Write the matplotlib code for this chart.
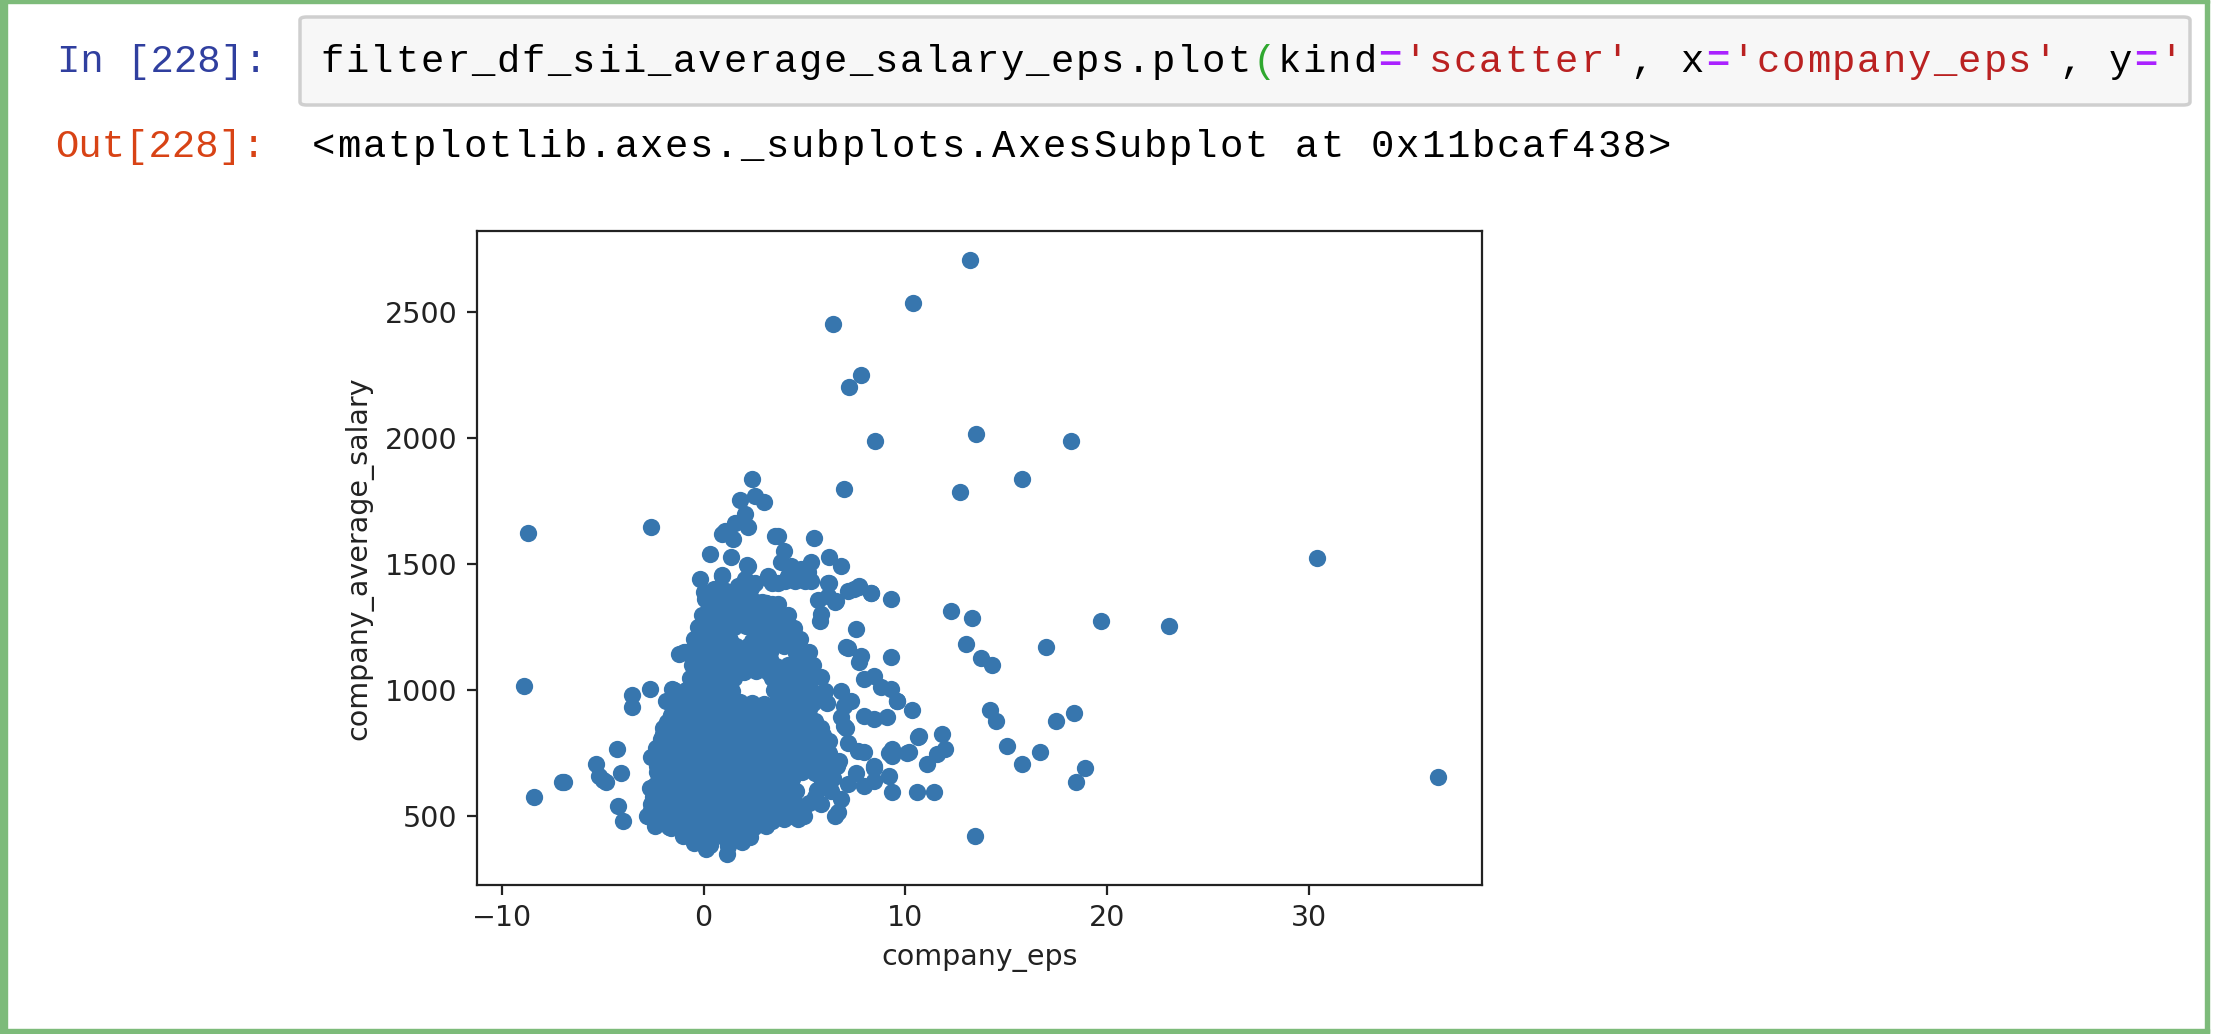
import numpy as np
import matplotlib.pyplot as plt
from matplotlib.patches import Rectangle, FancyBboxPatch

W, H = 2220, 1034

# outliers far from the main cloud
eps_outer = [13.2, 10.4, 6.4, 7.8, 7.2, 8.5, 13.5, 18.2, 6.95, 12.7, 15.8,
             -8.7, -8.9, -8.4, -7.0, 12.25, 13.3, 13.0, 13.75, 14.3, 17.0,
             14.2, 14.5, 18.35, 17.45, 15.05, 16.7, 15.8, 18.9, 18.45, 13.45,
             19.7, 23.1, 30.4, 36.4]
salary_outer = [2705, 2537, 2454, 2252, 2203, 1990, 2015, 1990, 1800, 1788, 1836,
                1623, 1016, 576, 635, 1313, 1288, 1183, 1127, 1101, 1171,
                921, 876, 910, 876, 780, 756, 706, 693, 635, 420,
                1276, 1255, 1524, 657]

# scattered points around the edge of the cloud
eps_spread = [-2.63, 2.38, 1.81, 2.55, 2.99, 2.05, 2.22, 1.07, 0.9, 1.56, 1.48,
              0.33, 1.35, 3.53, 2.22, 0.9, -0.16, 0.0, 0.08, 1.72, 2.38, 1.4,
              3.2, 3.37, 0.74, 1.07, 2.87, 3.04, 2.55, -0.49, -0.9, 0.41,
              3.69, 5.47, 3.99, 6.24, 6.81, 3.86, 4.35, 4.84, 5.34, 4.19, 4.68,
              5.17, 3.69, 4.02, 4.52, 5.01, 5.34, 6.24, 7.14, 7.72, 8.29, 7.47,
              9.31, 5.67, 6.49, 6.16, 3.37, 3.69, 5.83, 5.75, 7.55, 7.14, 7.8,
              9.28, 7.72, 7.96, 8.46, 8.78, 9.28, 9.61, 10.34, 6.81, 7.3, 7.96,
              8.46, 6.81, 6.98, 10.67, 11.82, 7.14, 7.64, 7.96, 9.36, 10.18,
              9.36, 11.99, 11.58, 11.08, 6.73, 7.55, 8.46, 9.2, 7.14, 7.96, 8.46,
              6.81, 6.65, 9.36, 10.59, 11.41, 9.08, 9.58, 6.94, 7.04, 9.2, 10.08,
              10.64, 8.45, 7.07, 6.57, 6.19, 7.69, 8.32, 2.17, 2.04, 2.54, 3.22,
              3.07, 0.89, -0.34, -0.98, -1.48, -1.86, -2.66, -3.56, -3.56, -1.56,
              -4.29, -5.32, -5.17, -5.0, -4.84, -4.12, -6.93, -4.24, -4.02,
              -2.68, -2.66, -2.61, -2.36, -2.12, -1.23, -1.39, -1.72, -1.64]
salary_spread = [1646, 1837, 1754, 1771, 1745, 1698, 1647, 1632, 1619, 1665, 1599,
                 1540, 1529, 1612, 1493, 1456, 1440, 1388, 1361, 1414, 1414, 1388,
                 1454, 1427, 1348, 1321, 1348, 1308, 1308, 1205, 1152, 1249,
                 1612, 1602, 1553, 1530, 1491, 1507, 1493, 1480, 1507, 1454, 1454,
                 1467, 1427, 1434, 1434, 1434, 1434, 1425, 1394, 1414, 1385, 1401,
                 1361, 1358, 1348, 1374, 1341, 1341, 1302, 1275, 1242, 1169, 1136,
                 1130, 1112, 1044, 1057, 1011, 1004, 958, 922, 997, 958, 898,
                 885, 892, 858, 817, 825, 792, 759, 753, 766, 753,
                 739, 766, 746, 706, 719, 673, 700, 660, 627, 620, 640,
                 567, 515, 596, 596, 596, 894, 956, 938, 848, 752, 752,
                 816, 690, 1171, 1354, 1425, 1411, 1384, 1496, 1443, 1425, 1443,
                 1345, 1452, 1204, 1150, 1000, 956, 1005, 979, 934, 1004,
                 766, 706, 660, 645, 634, 672, 634, 539, 481,
                 613, 495, 734, 770, 806, 1143, 845, 766, 455]

# the dense cloud, read row by row
eps_core = [0.5, 1.1, 1.7, 2.3,
            0.2, 0.8, 1.4, 2.0, 2.6, 3.1,
            -0.1, 0.5, 1.0, 1.6, 2.2, 3.0, 3.6, 4.2,
            -0.3, 0.3, 0.9, 1.5, 2.1, 2.7, 3.3, 3.9, 4.5,
            -0.4, 0.2, 0.8, 1.3, 2.4, 3.0, 3.6, 4.2, 4.8,
            -0.3, 0.3, 0.9, 1.5, 2.1, 2.7, 3.3, 4.6, 5.2,
            -0.6, 0.0, 0.6, 1.2, 1.8, 2.4, 3.0, 3.6, 4.2, 4.8, 5.4,
            -0.7, -0.1, 0.5, 1.1, 1.5, 3.4, 4.0, 4.6, 5.2, 5.8,
            -0.9, -0.3, 0.3, 0.9, 1.4, 3.5, 4.1, 4.7, 5.3, 6.0,
            -1.2, -0.6, 0.0, 0.6, 1.2, 1.8, 2.4, 3.0, 3.6, 4.2, 4.8, 5.4, 6.1,
            -1.6, -1.0, -0.4, 0.2, 0.8, 1.4, 2.0, 2.6, 3.2, 3.8, 4.4, 5.0,
            -2.0, -1.4, -0.8, -0.2, 0.4, 1.0, 1.6, 2.2, 2.8, 3.4, 4.0, 4.6, 5.2, 5.8,
            -2.1, -1.5, -0.9, -0.3, 0.3, 0.9, 1.5, 2.1, 2.7, 3.3, 3.9, 4.5, 5.1, 5.7, 6.2,
            -2.2, -1.6, -1.0, -0.4, 0.2, 0.8, 1.4, 2.0, 2.6, 3.2, 3.8, 4.4, 5.0, 5.6, 6.2,
            -2.3, -1.7, -1.1, -0.5, 0.1, 0.7, 1.3, 1.9, 2.5, 3.1, 3.7, 4.3, 4.9, 5.5, 6.1, 6.6,
            -2.2, -1.6, -1.0, -0.4, 0.2, 0.8, 1.4, 2.0, 2.6, 3.2, 3.8, 4.4, 5.8, 6.4,
            -2.5, -1.9, -1.3, -0.7, -0.1, 0.5, 1.1, 1.7, 2.3, 2.9, 3.5, 4.1, 4.6, 5.6, 6.3,
            -2.6, -2.0, -1.4, -0.8, -0.2, 0.4, 1.0, 1.6, 2.2, 2.8, 3.4, 4.0, 4.6, 5.2, 5.8,
            -2.8, -2.2, -1.6, -1.0, -0.4, 0.2, 0.8, 1.4, 2.0, 2.6, 3.2, 3.8, 4.4, 5.0,
            -2.4, -1.7, -1.1, -0.5, 0.1, 0.7, 1.3, 1.9, 2.5, 3.1, 4.0, 4.7, 6.5,
            -1.0, -0.3, 0.4, 1.0, 1.6, 2.3,
            -0.5, 0.3, 1.2, 1.9,
            1.15, 0.1]
salary_core = [1400, 1395, 1402, 1398,
               1350, 1352, 1348, 1355, 1350, 1347,
               1300, 1298, 1303, 1300, 1296, 1302, 1300, 1297,
               1250, 1253, 1248, 1251, 1255, 1249, 1250, 1252, 1246,
               1200, 1203, 1198, 1201, 1197, 1202, 1200, 1199, 1203,
               1150, 1148, 1152, 1150, 1149, 1153, 1150, 1148, 1151,
               1100, 1102, 1098, 1101, 1099, 1100, 1103, 1097, 1100, 1102, 1098,
               1050, 1052, 1049, 1051, 1047, 1050, 1053, 1048, 1050, 1052,
               1000, 1003, 998, 1001, 997, 1000, 1002, 999, 1001, 998,
               950, 952, 948, 951, 949, 953, 950, 947, 951, 950, 952, 948, 950,
               900, 902, 898, 901, 899, 903, 900, 897, 901, 900, 902, 898,
               850, 852, 848, 851, 849, 853, 850, 847, 851, 850, 852, 848, 850, 851,
               800, 802, 798, 801, 799, 803, 800, 797, 801, 800, 802, 798, 800, 802, 799,
               750, 752, 748, 751, 749, 753, 750, 747, 751, 750, 752, 748, 750, 752, 749,
               700, 702, 698, 701, 699, 703, 700, 697, 701, 700, 702, 698, 700, 702, 699, 701,
               650, 652, 648, 651, 649, 653, 650, 647, 651, 650, 652, 648, 650, 652,
               600, 602, 598, 601, 599, 603, 600, 597, 601, 600, 602, 598, 600, 602, 599,
               550, 552, 548, 551, 549, 553, 550, 547, 551, 550, 552, 548, 550, 552, 549,
               500, 502, 498, 501, 499, 503, 500, 497, 501, 500, 502, 498, 500, 502,
               460, 458, 462, 459, 461, 457, 460, 462, 458, 461, 488, 488, 501,
               420, 418, 422, 419, 421, 417,
               395, 385, 380, 396,
               349, 369]

# more points of the cloud, between the rows above
eps_fill = [0.5, 1.1, 1.7, 2.3,
            0.2, 0.8, 1.4, 2.0, 3.0,
            0.0, 0.6, 1.2, 2.7, 3.3, 3.9,
            -0.2, 0.4, 1.0, 1.6, 2.2, 2.8, 3.4, 4.0,
            -0.3, 0.3, 0.9, 1.5, 2.1, 2.7, 3.3, 4.9,
            -0.4, 0.2, 0.8, 1.4, 2.0, 2.6, 3.2, 3.8, 4.4, 5.0,
            -0.6, 0.0, 0.6, 1.2, 3.7, 4.3, 4.9,
            -1.0, -0.4, 0.2, 0.8, 3.8, 4.4, 5.0, 5.6,
            -1.4, -0.8, -0.2, 0.4, 1.0, 1.6, 2.2, 2.8, 3.4, 4.0, 4.6, 5.2,
            -1.8, -1.2, -0.6, 0.0, 0.6, 1.2, 1.8, 2.4, 3.0, 3.6, 4.2, 4.8, 5.5,
            -2.0, -1.4, -0.8, -0.2, 0.4, 1.0, 1.6, 2.2, 2.8, 3.4, 4.0, 4.6, 5.2, 5.9,
            -2.1, -1.5, -0.9, -0.3, 0.3, 0.9, 1.5, 2.1, 2.7, 3.3, 3.9, 4.5, 5.1, 5.8,
            -2.2, -1.6, -1.0, -0.4, 0.2, 0.8, 1.4, 2.0, 2.6, 3.2, 3.8, 4.4, 5.0, 5.6, 6.3,
            -2.3, -1.7, -1.1, -0.5, 0.1, 0.7, 1.3, 1.9, 2.5, 3.1, 3.7, 4.3, 4.9, 5.5, 6.1,
            -2.4, -1.8, -1.2, -0.6, 0.0, 0.6, 1.2, 1.8, 2.4, 3.0, 3.6, 4.2, 5.9,
            -2.5, -1.9, -1.3, -0.7, -0.1, 0.5, 1.1, 1.7, 2.3, 2.9, 3.5, 4.1, 5.5,
            -2.6, -2.0, -1.4, -0.8, -0.2, 0.4, 1.0, 1.6, 2.2, 2.8, 3.4, 4.0, 4.8,
            -2.0, -1.4, -0.8, -0.2, 0.4, 1.0, 1.6, 2.2, 2.8, 3.4]
salary_fill = [1325, 1322, 1328, 1324,
               1275, 1278, 1272, 1276, 1274,
               1225, 1228, 1222, 1226, 1224, 1227,
               1175, 1178, 1172, 1176, 1174, 1177, 1173, 1175,
               1125, 1128, 1122, 1126, 1124, 1127, 1123, 1125,
               1075, 1078, 1072, 1076, 1074, 1077, 1073, 1075, 1078, 1072,
               1025, 1028, 1022, 1026, 1024, 1027, 1023,
               975, 978, 972, 976, 974, 977, 973, 975,
               925, 928, 922, 926, 924, 927, 923, 925, 928, 922, 926, 924,
               875, 878, 872, 876, 874, 877, 873, 875, 878, 872, 876, 874, 877,
               825, 828, 822, 826, 824, 827, 823, 825, 828, 822, 826, 824, 827, 823,
               775, 778, 772, 776, 774, 777, 773, 775, 778, 772, 776, 774, 777, 773,
               725, 728, 722, 726, 724, 727, 723, 725, 728, 722, 726, 724, 727, 723, 725,
               675, 678, 672, 676, 674, 677, 673, 675, 678, 672, 676, 674, 677, 673, 675,
               625, 628, 622, 626, 624, 627, 623, 625, 628, 622, 626, 624, 627,
               575, 578, 572, 576, 574, 577, 573, 575, 578, 572, 576, 574, 577,
               525, 528, 522, 526, 524, 527, 523, 525, 528, 522, 526, 524, 527,
               480, 478, 482, 479, 481, 477, 480, 482, 478, 481]

xticks = [-10, 0, 10, 20, 30]
yticks = [500, 1000, 1500, 2000, 2500]

# only the part of the code line that is visible inside the input box
code_tokens = [("filter_df_sii_average_salary_eps.plot", "black"), ("(", "#2fa82f"),
               ("kind", "black"), ("=", "#aa22ff"), ("'scatter'", "#ba2121"),
               (", x", "black"), ("=", "#aa22ff"), ("'company_eps'", "#ba2121"),
               (", y", "black"), ("=", "#aa22ff"), ("'", "#ba2121")]
out_text = "<matplotlib.axes._subplots.AxesSubplot at 0x11bcaf438>"


def fx(px):
    return px / W


def fy(py):
    return 1 - py / H


def mono_line(fig, x0, yc, tokens):
    # place characters one by one so the advance matches the screenshot
    step = 25.2
    i = 0
    for tok, col in tokens:
        for ch in tok:
            fig.text(fx(x0 + i * step + step / 2), fy(yc), ch, color=col,
                     family='Liberation Mono', fontsize=28, ha='center', va='center',
                     fontweight='bold' if col == "#aa22ff" else 'normal')
            i += 1


fig = plt.figure(figsize=(W / 100, H / 100), dpi=100)
fig.patch.set_facecolor('white')

# cell frame
green = '#7dbb7a'
fig.patches.append(Rectangle((0, 0), fx(7), 1, transform=fig.transFigure, color=green))
fig.patches.append(Rectangle((0, fy(3)), fx(2209), 3 / H, transform=fig.transFigure, color=green))
fig.patches.append(Rectangle((fx(2205), 0), fx(4), 1, transform=fig.transFigure, color=green))
fig.patches.append(Rectangle((0, fy(1033)), fx(2209), 4 / H, transform=fig.transFigure, color=green))

# input box
fig.patches.append(FancyBboxPatch((fx(300), fy(105)), fx(1890), 88 / H,
                                  boxstyle='round,pad=0,rounding_size=0.003',
                                  transform=fig.transFigure, facecolor='#f7f7f7',
                                  edgecolor='#cfcfcf', linewidth=2.5))

fig.text(fx(57), fy(62), "In [228]:", color='#303f9f', family='Liberation Mono',
         fontsize=28, va='center', ha='left')
fig.text(fx(55), fy(147), "Out[228]:", color='#d84315', family='Liberation Mono',
         fontsize=28, va='center', ha='left')

mono_line(fig, 319, 62, code_tokens)
mono_line(fig, 311, 147, [(out_text, "black")])

# the scatter plot itself
eps = np.array(eps_outer + eps_spread + eps_core + eps_fill)
salary = np.array(salary_outer + salary_spread + salary_core + salary_fill)

ax = fig.add_axes([fx(477), fy(885), fx(1482) - fx(477), fy(231) - fy(885)])
ax.scatter(eps, salary, s=155, color='#3776ae', linewidths=0)
ax.set_xlim(-11.24, 38.6)
ax.set_ylim(227, 2822)
ax.set_xticks(xticks)
ax.set_yticks(yticks)
ax.tick_params(labelsize=20.5, length=7, width=1.6, pad=7, colors='#222222')
for sp in ax.spines.values():
    sp.set_linewidth(1.6)
    sp.set_color('#222222')
ax.set_xlabel('company_eps', fontsize=20.5, labelpad=8, color='#222222')
ax.set_ylabel('company_average_salary', fontsize=20.5, labelpad=8, color='#222222')

fig.savefig('out.png', dpi=100, facecolor='white')
